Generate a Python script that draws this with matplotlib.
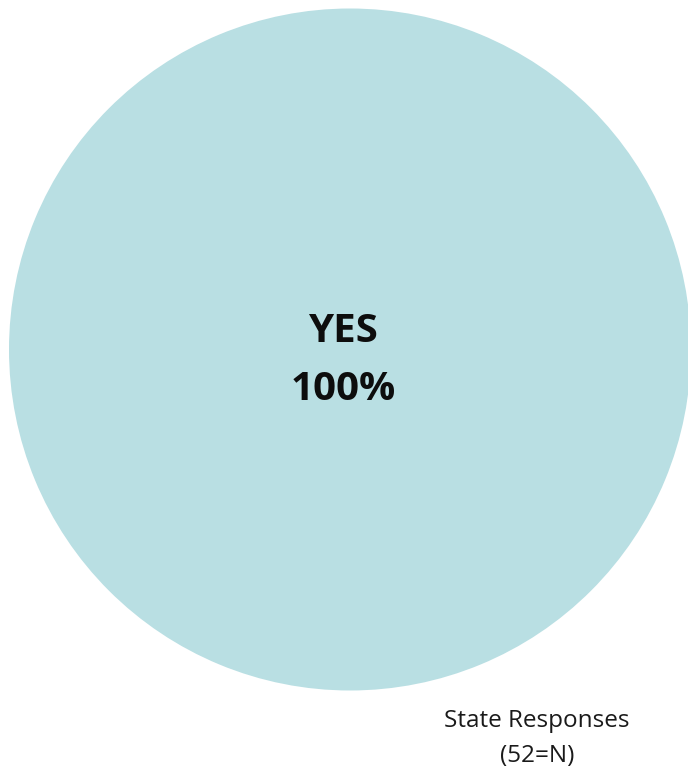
import matplotlib
matplotlib.use("Agg")
import matplotlib.pyplot as plt

categories = ["YES"]
values = [100]
note_lines = ["State Responses", "(52=N)"]

W, H, DPI = 688, 772, 100
fig = plt.figure(figsize=(W / DPI, H / DPI), dpi=DPI)
ax = fig.add_axes([0, 0, 1, 1])

ax.pie(values, colors=["#B9DFE3"], center=(350, 349.5), radius=341,
       startangle=90, counterclock=False, frame=True,
       wedgeprops=dict(linewidth=0, edgecolor="none"))
ax.set_xlim(0, W)
ax.set_ylim(H, 0)
ax.set_aspect("equal")
ax.axis("off")

total = sum(values)
pct = round(values[0] / total * 100)
ax.text(343, 342, categories[0], ha="center", va="baseline",
        fontsize=29, fontweight="bold", family="Open Sans", color="#0d0d0d")
ax.text(343, 400, f"{pct}%", ha="center", va="baseline",
        fontsize=29, fontweight="bold", family="Open Sans", color="#0d0d0d")

ax.text(537, 727, note_lines[0], ha="center", va="baseline",
        fontsize=17.5, family="Open Sans", color="#1a1a1a")
ax.text(537, 762, note_lines[1], ha="center", va="baseline",
        fontsize=17.5, family="Open Sans", color="#1a1a1a")

fig.savefig("out.png", dpi=DPI)
